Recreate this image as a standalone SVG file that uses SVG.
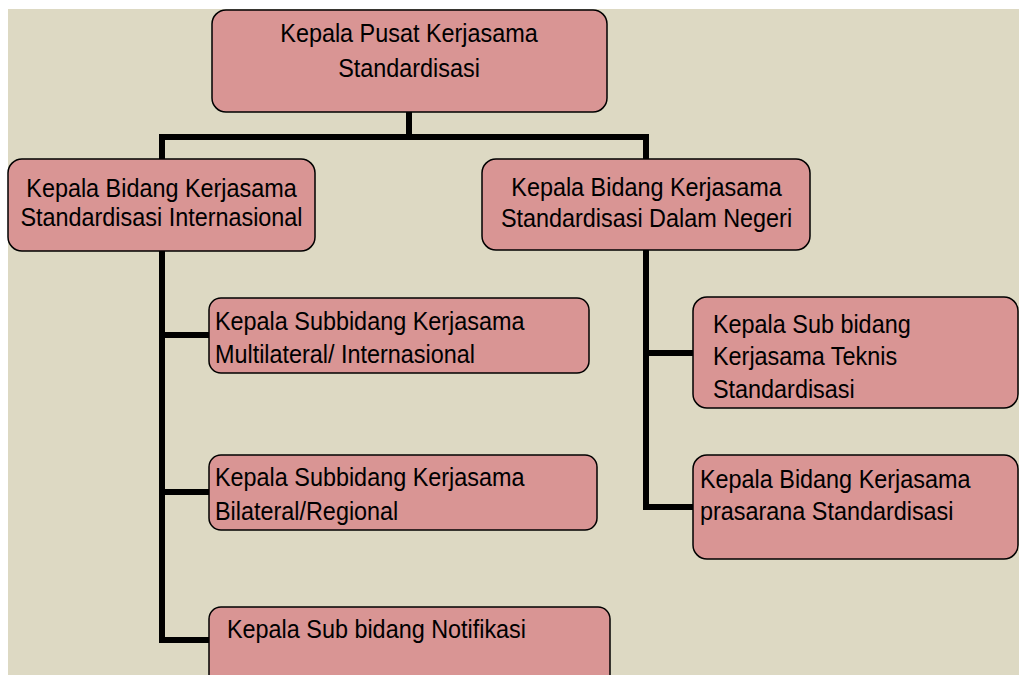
<svg xmlns="http://www.w3.org/2000/svg" width="1019" height="675" viewBox="0 0 1019 675">
<style>
.box{fill:#d99594;stroke:#000;stroke-width:1.5}
.t{font-family:"Liberation Sans",Arial,sans-serif;font-size:26px;fill:#000}
.c{text-anchor:middle}
.conn path{fill:none;stroke:#000;stroke-width:6;stroke-linejoin:miter;stroke-linecap:butt}
</style>
<rect x="0" y="0" width="1019" height="675" fill="#ffffff"/>
<rect x="8" y="9" width="1011" height="666" fill="#ddd9c3"/>
<g id="connectors" class="conn">
<path d="M409 112 V137"/>
<path d="M162 159 V137 H646 V159"/>
<path d="M162 251 V640 H210"/>
<path d="M162 335 H210"/>
<path d="M162 492 H210"/>
<path d="M646 250 V507 H694"/>
<path d="M646 353 H694"/>
</g>
<g id="kepala-pusat">
<rect class="box" x="212" y="10" width="395" height="102" rx="14"/>
<text class="t c" transform="translate(409,42) scale(0.9,1)"><tspan x="0" y="0">Kepala Pusat Kerjasama</tspan><tspan x="0" y="35">Standardisasi</tspan></text>
</g>
<g id="bidang-internasional">
<rect class="box" x="8" y="159" width="307" height="92" rx="14"/>
<text class="t c" transform="translate(161.5,197) scale(0.9,1)"><tspan x="0" y="0">Kepala Bidang Kerjasama</tspan><tspan x="0" y="29">Standardisasi Internasional</tspan></text>
</g>
<g id="bidang-dalam-negeri">
<rect class="box" x="482" y="159" width="328" height="91" rx="14"/>
<text class="t c" transform="translate(646.5,196) scale(0.9,1)"><tspan x="0" y="0">Kepala Bidang Kerjasama</tspan><tspan x="0" y="31">Standardisasi Dalam Negeri</tspan></text>
</g>
<g id="sub-multilateral">
<rect class="box" x="209" y="298" width="380" height="75" rx="12"/>
<text class="t" transform="translate(215,330) scale(0.9,1)"><tspan x="0" y="0">Kepala Subbidang Kerjasama</tspan><tspan x="0" y="33">Multilateral/ Internasional</tspan></text>
</g>
<g id="sub-bilateral">
<rect class="box" x="209" y="455" width="388" height="75" rx="12"/>
<text class="t" transform="translate(215,486) scale(0.9,1)"><tspan x="0" y="0">Kepala Subbidang Kerjasama</tspan><tspan x="0" y="34.5">Bilateral/Regional</tspan></text>
</g>
<g id="sub-notifikasi">
<rect class="box" x="209" y="607" width="401" height="85" rx="12"/>
<text class="t" transform="translate(227,638) scale(0.9,1)">Kepala Sub bidang Notifikasi</text>
</g>
<g id="sub-teknis">
<rect class="box" x="693" y="297" width="325" height="111" rx="14"/>
<text class="t" transform="translate(713,333) scale(0.9,1)"><tspan x="0" y="0">Kepala Sub bidang</tspan><tspan x="0" y="32.5">Kerjasama Teknis</tspan><tspan x="0" y="65">Standardisasi</tspan></text>
</g>
<g id="bidang-prasarana">
<rect class="box" x="693" y="455" width="325" height="104" rx="14"/>
<text class="t" transform="translate(700,488) scale(0.9,1)"><tspan x="0" y="0">Kepala Bidang Kerjasama</tspan><tspan x="0" y="32">prasarana Standardisasi</tspan></text>
</g>
</svg>
